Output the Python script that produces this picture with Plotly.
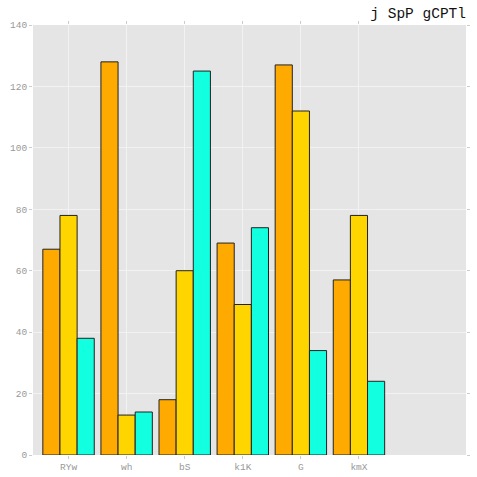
import plotly.graph_objects as go

categories = ["RYw", "wh", "bS", "k1K", "G", "kmX"]
series_a = [67, 128, 18, 69, 127, 57]
series_b = [78, 13, 60, 49, 112, 78]
series_c = [38, 14, 125, 74, 34, 24]
colors = ["#FFAA00", "#FFD500", "#12FFE0"]
title_text = "j SpP gCPTl"

fig = go.Figure()
for vals, col in zip([series_a, series_b, series_c], colors):
    fig.add_trace(go.Bar(
        x=categories, y=vals,
        marker=dict(color=col, line=dict(color="#222222", width=1)),
        showlegend=False,
    ))

mono = "Liberation Mono, Courier New, monospace"
fig.update_layout(
    width=477, height=477,
    margin=dict(l=33, r=11, t=25, b=22, autoexpand=False),
    paper_bgcolor="white",
    plot_bgcolor="#E5E5E5",
    barmode="group",
    bargap=0.115,
    bargroupgap=0,
    font=dict(family=mono, size=9.5, color="#999999"),
    title=dict(text=title_text, xref="paper", x=1, xanchor="right",
               yref="container", y=0.962, yanchor="bottom",
               font=dict(family=mono, size=14.5, color="#111111")),
)
fig.update_xaxes(
    range=[-0.612, 6.843], automargin=False,
    showgrid=True, gridcolor="#F2F2F2", gridwidth=1,
    ticks="outside", ticklen=3, tickcolor="#CCCCCC", mirror="ticks",
    showline=False, zeroline=False,
    tickfont=dict(family=mono, size=9.5, color="#999999"),
)
fig.update_yaxes(
    range=[0, 140], dtick=20, tick0=0, automargin=False,
    showgrid=True, gridcolor="#F2F2F2", gridwidth=1,
    ticks="outside", ticklen=3, tickcolor="#CCCCCC", mirror="ticks",
    showline=False, zeroline=False,
    tickfont=dict(family=mono, size=9.5, color="#999999"),
)
fig.write_html("out.html", config={"displayModeBar": False},
               post_script="document.body.style.margin='0';document.body.style.overflow='hidden';")
